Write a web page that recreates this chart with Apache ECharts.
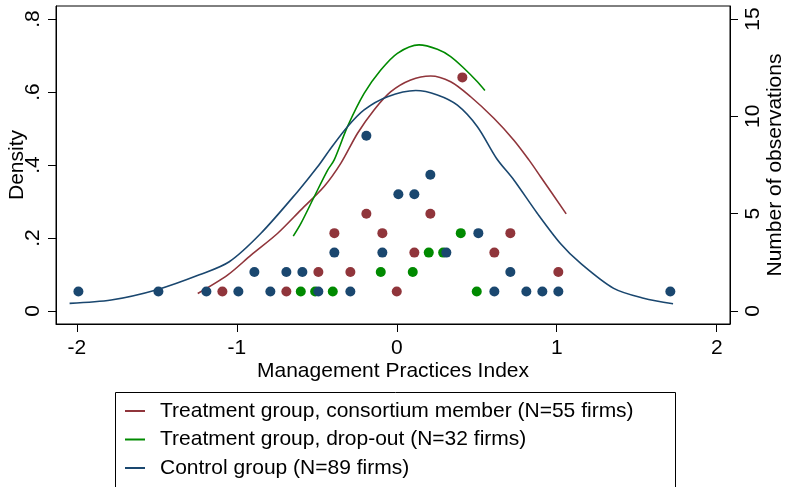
<!DOCTYPE html>
<html>
<head>
<meta charset="utf-8">
<script src="https://cdn.jsdelivr.net/npm/echarts@6/dist/echarts.min.js"></script>
<style>
  html, body { margin: 0; padding: 0; background: #fff; }
  #chart { width: 786px; height: 487px; }
</style>
</head>
<body>
<div id="chart"></div>
<script>
// Axis ticks
const xTicks = [-2, -1, 0, 1, 2];
const densityTicks = [0, 0.2, 0.4, 0.6, 0.8];
const countTicks = [0, 5, 10, 15];

// Group names
const nameMember = 'Treatment group, consortium member (N=55 firms)';
const nameDropout = 'Treatment group, drop-out (N=32 firms)';
const nameControl = 'Control group (N=89 firms)';

// Kernel density curves: [index, density]
const memberCurve = [
  [-1.244, 0.048], [-1.056, 0.099], [-0.911, 0.153], [-0.744, 0.213],
  [-0.599, 0.277], [-0.454, 0.341], [-0.349, 0.405], [-0.245, 0.487],
  [-0.142, 0.551], [-0.037, 0.601], [0.087, 0.633], [0.212, 0.644],
  [0.337, 0.628], [0.462, 0.587], [0.607, 0.528], [0.732, 0.468],
  [0.826, 0.414], [0.899, 0.368], [1.059, 0.266]
];
const dropoutCurve = [
  [-0.647, 0.205], [-0.599, 0.240], [-0.516, 0.313], [-0.432, 0.386],
  [-0.391, 0.414], [-0.308, 0.505], [-0.204, 0.596], [-0.100, 0.660],
  [0.004, 0.706], [0.139, 0.729], [0.254, 0.717], [0.337, 0.697],
  [0.420, 0.665], [0.504, 0.628], [0.551, 0.604]
];
const controlCurve = [
  [-2.045, 0.021], [-1.785, 0.030], [-1.493, 0.059], [-1.234, 0.099],
  [-1.047, 0.135], [-0.849, 0.213], [-0.620, 0.327], [-0.495, 0.395],
  [-0.412, 0.446], [-0.308, 0.505], [-0.204, 0.551], [-0.058, 0.587],
  [0.119, 0.604], [0.254, 0.592], [0.379, 0.564], [0.504, 0.505],
  [0.624, 0.418], [0.732, 0.359], [0.878, 0.268], [1.023, 0.185],
  [1.148, 0.131], [1.356, 0.062], [1.543, 0.035], [1.727, 0.020]
];

// Firm counts per index bin: [index, number of observations]
const memberCounts = [
  [-1.09, 1], [-0.69, 1], [-0.49, 2], [-0.39, 4], [-0.29, 2], [-0.19, 5],
  [-0.09, 4], [0.00, 1], [0.11, 3], [0.21, 5], [0.41, 12], [0.61, 3],
  [0.71, 4], [1.01, 2]
];
const dropoutCounts = [
  [-0.60, 1], [-0.51, 1], [-0.40, 1], [-0.10, 2], [0.10, 2], [0.20, 3],
  [0.29, 3], [0.40, 4], [0.50, 1]
];
const controlCounts = [
  [-1.99, 1], [-1.49, 1], [-1.19, 1], [-0.99, 1], [-0.89, 2], [-0.79, 1],
  [-0.69, 2], [-0.59, 2], [-0.49, 1], [-0.39, 3], [-0.29, 1], [-0.19, 9],
  [-0.09, 3], [0.01, 6], [0.11, 6], [0.21, 7], [0.31, 3], [0.51, 4],
  [0.61, 1], [0.71, 2], [0.81, 1], [0.91, 1], [1.01, 1], [1.71, 1]
];

const colMember = '#90353b';
const colDropout = '#008a00';
const colControl = '#1a476f';

const FONT = 'Liberation Sans, Arial, sans-serif';
const FS = 21;
const axisText = { color: '#000', fontFamily: FONT, fontSize: FS };

function densityLabel(v) {
  const r = Math.round(v * 10) / 10;
  return r === 0 ? '0' : String(r).replace(/^0/, '');
}

const chart = echarts.init(document.getElementById('chart'), null, { renderer: 'canvas' });

function lineSeries(name, data, color) {
  return {
    name: name, type: 'line', data: data, yAxisIndex: 0,
    showSymbol: false, smooth: 0.3, z: 2,
    lineStyle: { color: color, width: 1.6 }, itemStyle: { color: color }
  };
}
function dotSeries(name, data, color, z) {
  return {
    name: name + ' dots', type: 'scatter', data: data, yAxisIndex: 1,
    symbolSize: 10, z: z, itemStyle: { color: color, opacity: 1 }
  };
}

chart.setOption({
  animation: false,
  backgroundColor: '#fff',
  grid: {
    left: 56, right: 56, top: 6, bottom: 163,
    outerBoundsMode: 'none', containLabel: false,
    show: true, borderColor: '#000', borderWidth: 1, backgroundColor: '#fff'
  },
  xAxis: {
    type: 'value', min: -2.13, max: 2.083,
    name: 'Management Practices Index', nameLocation: 'middle', nameGap: 37,
    nameMoveOverlap: false,
    nameTextStyle: axisText,
    axisLine: { show: true, onZero: false, lineStyle: { color: '#000', width: 1 } },
    axisTick: { show: true, length: 8, customValues: xTicks, lineStyle: { color: '#000' } },
    axisLabel: { customValues: xTicks, margin: 14, ...axisText },
    splitLine: { show: false }
  },
  yAxis: [
    {
      type: 'value', min: -0.0356, max: 0.8356, position: 'left',
      name: 'Density', nameLocation: 'middle', nameGap: 28, nameRotate: 90,
      nameMoveOverlap: false,
      nameTextStyle: axisText,
      axisLine: { show: true, onZero: false, lineStyle: { color: '#000', width: 1 } },
      axisTick: { show: true, length: 8, customValues: densityTicks, lineStyle: { color: '#000' } },
      axisLabel: { customValues: densityTicks, rotate: 90, margin: 12, formatter: densityLabel, ...axisText },
      splitLine: { show: false }
    },
    {
      type: 'value', min: -0.668, max: 15.668, position: 'right',
      name: 'Number of observations', nameLocation: 'middle', nameGap: 35, nameRotate: 90,
      nameMoveOverlap: false,
      nameTextStyle: axisText,
      axisLine: { show: true, onZero: false, lineStyle: { color: '#000', width: 1 } },
      axisTick: { show: true, length: 8, customValues: countTicks, lineStyle: { color: '#000' } },
      axisLabel: { customValues: countTicks, rotate: 90, margin: 12.5, ...axisText },
      splitLine: { show: false }
    }
  ],
  legend: {
    orient: 'vertical', left: 113, top: 390,
    padding: [6.75, 0, 0, 12],
    itemGap: 0, itemWidth: 20, itemHeight: 2, icon: 'rect',
    data: [nameMember, nameDropout, nameControl],
    textStyle: { color: '#000', fontFamily: FONT, fontSize: FS, lineHeight: 28.5, padding: [0, 0, 0, 10] }
  },
  graphic: [{
    type: 'rect', left: 113, top: 390, silent: true, z: -1,
    shape: { width: 560, height: 120 },
    style: { fill: 'none', stroke: '#000', lineWidth: 1 }
  }],
  series: [
    lineSeries(nameMember, memberCurve, colMember),
    lineSeries(nameDropout, dropoutCurve, colDropout),
    lineSeries(nameControl, controlCurve, colControl),
    dotSeries('member', memberCounts, colMember, 3),
    dotSeries('dropout', dropoutCounts, colDropout, 4),
    dotSeries('control', controlCounts, colControl, 5)
  ]
});
</script>
</body>
</html>
